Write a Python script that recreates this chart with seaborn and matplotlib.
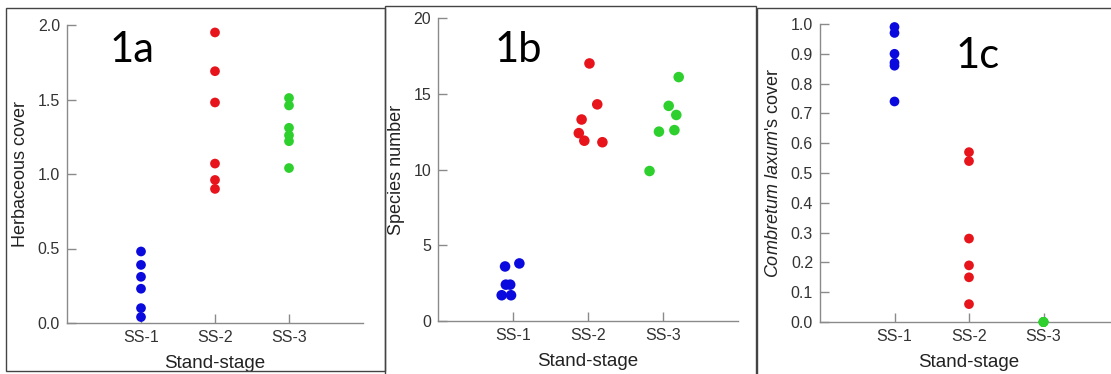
import numpy as np
import pandas as pd
import matplotlib
matplotlib.use("Agg")
import matplotlib.pyplot as plt
from matplotlib.patches import Rectangle
import seaborn as sns

# ---------------- data ----------------
stages = ["SS-1", "SS-2", "SS-3"]
colors = ["#0a0ade", "#e8141c", "#2ed02e"]

herb_ss1 = [0.48, 0.39, 0.31, 0.23, 0.10, 0.04]
herb_ss2 = [1.95, 1.69, 1.48, 1.07, 0.96, 0.90]
herb_ss3 = [1.51, 1.46, 1.31, 1.26, 1.22, 1.04]

spec_ss1 = [3.6, 2.4, 2.4, 3.8, 1.7, 1.7]
spec_ss2 = [17.0, 14.3, 13.3, 12.4, 11.9, 11.8]
spec_ss3 = [16.1, 14.2, 13.6, 12.6, 12.5, 9.9]

comb_ss1 = [0.99, 0.97, 0.90, 0.87, 0.86, 0.74]
comb_ss2 = [0.57, 0.54, 0.28, 0.19, 0.15, 0.06]
comb_ss3 = [0.0, 0.0, 0.0, 0.0, 0.0, 0.0]

herb_ticks = [0.0, 0.5, 1.0, 1.5, 2.0]
spec_ticks = [0, 5, 10, 15, 20]
comb_ticks = [0.0, 0.1, 0.2, 0.3, 0.4, 0.5, 0.6, 0.7, 0.8, 0.9, 1.0]


def frame(a, b, c):
    return pd.DataFrame({
        "stage": [stages[0]] * len(a) + [stages[1]] * len(b) + [stages[2]] * len(c),
        "value": list(a) + list(b) + list(c),
    })


df_a = frame(herb_ss1, herb_ss2, herb_ss3)
df_b = frame(spec_ss1, spec_ss2, spec_ss3)
df_c = frame(comb_ss1, comb_ss2, comb_ss3)

# ---------------- style ----------------
sns.set_style("white")
plt.rcParams["font.family"] = ["Liberation Sans", "DejaVu Sans"]
plt.rcParams["mathtext.fontset"] = "custom"
plt.rcParams["mathtext.rm"] = "Liberation Sans"
plt.rcParams["mathtext.it"] = "Liberation Sans:italic"

W, H = 1111, 374
fig = plt.figure(figsize=(W / 100, H / 100), dpi=100)


def px_axes(left, right, top, bottom):
    return fig.add_axes([left / W, 1 - bottom / H, (right - left) / W, (bottom - top) / H])


ax_a = px_axes(67, 363, 25, 323)
ax_b = px_axes(438, 738, 18, 321)
ax_c = px_axes(820, 1118, 24, 322)

spine_col = "#8a8a8a"


def style(ax, ticks, fmt, ylabel, ylim):
    ax.set_xlim(-1, 3)
    ax.set_ylim(*ylim)
    ax.set_yticks(ticks)
    ax.set_yticklabels([fmt.format(t) for t in ticks])
    for s in ["top", "right"]:
        ax.spines[s].set_visible(False)
    for s in ["left", "bottom"]:
        ax.spines[s].set_color(spine_col)
        ax.spines[s].set_linewidth(1.0)
    ax.tick_params(axis="both", which="major", bottom=True, left=True,
                   direction="in", length=6.5, width=1.0,
                   color=spine_col, labelsize=11.5, labelcolor="#333333", pad=5)
    ax.set_xlabel("Stand-stage", fontsize=13.5, color="#222222", labelpad=7)
    ax.set_ylabel(ylabel, fontsize=13, color="#222222", labelpad=6)
    ax.set_facecolor("none")


np.random.seed(3)
sns.stripplot(data=df_a, x="stage", y="value", hue="stage", order=stages,
              palette=colors, jitter=False, size=7, linewidth=0,
              legend=False, ax=ax_a, zorder=3, clip_on=False)
sns.stripplot(data=df_b, x="stage", y="value", hue="stage", order=stages,
              palette=colors, jitter=0.22, size=7.6, linewidth=0,
              legend=False, ax=ax_b, zorder=3, clip_on=False)
sns.stripplot(data=df_c, x="stage", y="value", hue="stage", order=stages,
              palette=colors, jitter=False, size=7, linewidth=0,
              legend=False, ax=ax_c, zorder=3, clip_on=False)

style(ax_a, herb_ticks, "{:.1f}", "Herbaceous cover", (0, 2.0))
style(ax_b, spec_ticks, "{:d}", "Species number", (0, 20))
style(ax_c, comb_ticks, "{:.1f}", r"$\mathit{Combretum\ laxum}$'s cover", (0, 1.0))

# panel labels
for txt, x, y in [("1a", 110, 62), ("1b", 495, 62), ("1c", 956, 68)]:
    fig.text(x / W, 1 - y / H, txt, fontsize=30, family=["Lato", "DejaVu Sans"],
             color="black", ha="left", va="baseline")

# panel frames
for (l, t, r, b) in [(6, 8, 385, 371), (385, 6, 756, 376), (757, 8, 1115, 376)]:
    fig.add_artist(Rectangle((l / W, 1 - b / H), (r - l) / W, (b - t) / H,
                             transform=fig.transFigure, fill=False,
                             edgecolor="#444444", linewidth=1.0))

fig.savefig("out.png", dpi=100)
